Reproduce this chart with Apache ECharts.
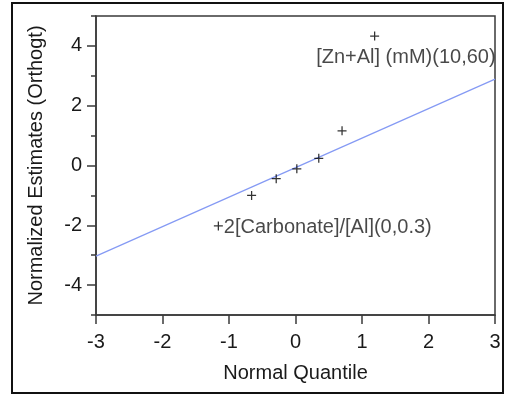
<!DOCTYPE html>
<html>
<head>
<meta charset="utf-8">
<script src="https://cdn.jsdelivr.net/npm/echarts@6/dist/echarts.min.js"></script>
<style>
html,body{margin:0;padding:0;background:#fff;}
#c{width:508px;height:396px;}
</style>
</head>
<body>
<div id="c"></div>
<script>
// Data
var quantiles = [-1.16, -0.66, -0.29, 0.02, 0.35, 0.70, 1.19];
var estimates = [-2.02, -1.00, -0.44, -0.11, 0.24, 1.16, 4.33];
var pointLabels = ['2[Carbonate]/[Al](0,0.3)', '', '', '', '', '', '[Zn+Al] (mM)(10,60)'];
var lineX = [-3, 3];
var lineY = [-3.03, 2.89];
var yMajorTicks = [-4, -2, 0, 2, 4];
var yMinorTicks = [-5, -3, -1, 1, 3, 5];

var FONT = 'Liberation Sans';
var FS = 20;
var TXT = '#1a1a1a';
var AX = '#3a3a3a';

var labelStyles = [
  {show: true, position: 'right', distance: 1, offset: [0, 2], fontFamily: FONT, fontSize: FS, color: TXT},
  null, null, null, null, null,
  {show: true, position: [-54, 16], align: 'left', verticalAlign: 'top', fontFamily: FONT, fontSize: FS, color: TXT}
];

var scatterData = quantiles.map(function (q, i) {
  var d = {value: [q, estimates[i]]};
  if (pointLabels[i]) {
    var ls = Object.assign({}, labelStyles[i]);
    ls.formatter = pointLabels[i];
    d.label = ls;
  }
  return d;
});

var plus = 'path://M4.3,0H5.7V4.3H10V5.7H5.7V10H4.3V5.7H0V4.3H4.3Z';

var chart = echarts.init(document.getElementById('c'), null, {renderer: 'canvas'});
chart.setOption({
  animation: false,
  backgroundColor: '#fff',
  grid: {left: 96, right: 13, top: 16, bottom: 81, show: true, borderColor: AX, borderWidth: 1.5, containLabel: false},
  xAxis: {
    type: 'value', min: -3, max: 3, interval: 1,
    name: 'Normal Quantile', nameLocation: 'middle', nameGap: 48,
    nameTextStyle: {fontFamily: FONT, fontSize: FS, color: TXT},
    axisLine: {show: true, onZero: false, lineStyle: {color: AX, width: 1.5}},
    axisTick: {show: true, length: 9, lineStyle: {color: AX, width: 1.5}},
    axisLabel: {margin: 17, fontFamily: FONT, fontSize: FS, color: TXT},
    splitLine: {show: false}
  },
  yAxis: [{
    type: 'value', min: -5, max: 5, interval: 1, position: 'left',
    name: 'Normalized Estimates (Orthogt)', nameLocation: 'middle', nameGap: 50, nameRotate: 90,
    nameTextStyle: {fontFamily: FONT, fontSize: FS, color: TXT},
    axisLine: {show: true, onZero: false, lineStyle: {color: AX, width: 1.5}},
    axisTick: {show: true, length: 9, customValues: yMajorTicks, lineStyle: {color: AX, width: 1.5}},
    axisLabel: {margin: 14, customValues: yMajorTicks, fontFamily: FONT, fontSize: FS, color: TXT},
    splitLine: {show: false}
  }, {
    type: 'value', min: -5, max: 5, interval: 1, position: 'left', offset: 0,
    axisLine: {show: false, onZero: false},
    axisTick: {show: true, length: 5, customValues: yMinorTicks, lineStyle: {color: AX, width: 1.5}},
    axisLabel: {show: false},
    splitLine: {show: false}
  }],
  series: [{
    type: 'line',
    data: lineX.map(function (x, i) { return [x, lineY[i]]; }),
    symbol: 'none',
    lineStyle: {color: '#859af4', width: 1.2},
    z: 2
  }, {
    type: 'scatter',
    data: scatterData,
    symbol: plus,
    symbolSize: 9,
    itemStyle: {color: '#000'},
    z: 3
  }],
  graphic: [{
    type: 'rect', z: 100,
    shape: {x: 496.5, y: 38, width: 5, height: 40},
    style: {fill: '#fff', stroke: null}
  }, {
    type: 'rect', z: 101,
    shape: {x: 12, y: 3, width: 491, height: 390},
    style: {fill: 'none', stroke: '#111', lineWidth: 2}
  }]
});
</script>
</body>
</html>
